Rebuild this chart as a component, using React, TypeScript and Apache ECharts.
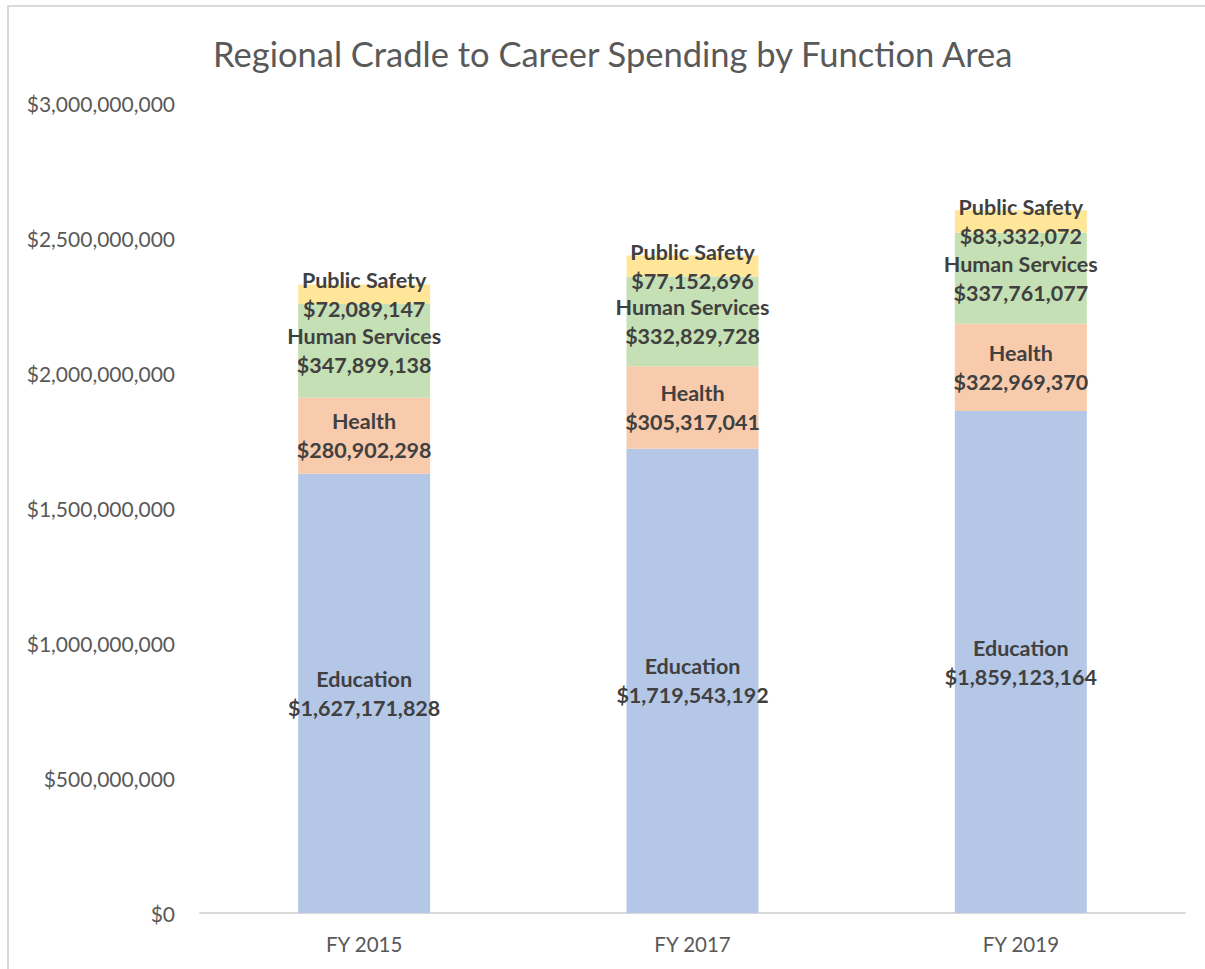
import React, { useEffect, useRef } from "react";
import * as echarts from "echarts";

const categories = ["FY 2015", "FY 2017", "FY 2019"];
const education = [1627171828, 1719543192, 1859123164];
const health = [280902298, 305317041, 322969370];
const humanServices = [347899138, 332829728, 337761077];
const publicSafety = [72089147, 77152696, 83332072];
const yTicks = { min: 0, max: 3000000000, interval: 500000000 };

const FONT = "Lato, 'Open Sans', sans-serif";

export default function App() {
  const ref = useRef<HTMLDivElement>(null);
  useEffect(() => {
    if (!ref.current) return;
    const chart = echarts.init(ref.current, null, { renderer: "svg" });
    const fmt = (v: number) => "$" + v.toLocaleString("en-US");
    const label = {
      show: true,
      position: "inside",
      color: "#404040",
      fontWeight: "bold",
      fontSize: 21.5,
      lineHeight: 29,
      fontFamily: FONT,
      formatter: (p: any) => p.seriesName + "\n" + fmt(p.value),
    };
    const mk = (name: string, data: number[], color: string) => ({
      name,
      type: "bar",
      stack: "total",
      data,
      barWidth: 132,
      itemStyle: { color },
      label,
    });
    chart.setOption({
      animation: false,
      backgroundColor: "#ffffff",
      title: {
        text: "Regional Cradle to Career Spending by Function Area",
        left: 208,
        top: 28,
        textStyle: {
          fontSize: 34.5,
          fontWeight: "normal",
          color: "#595959",
          fontFamily: FONT,
          lineHeight: 40,
        },
      },
      graphic: [
        {
          type: "rect",
          shape: { x: 8, y: 6, width: 1210, height: 980 },
          style: { fill: "none", stroke: "#d9d9d9", lineWidth: 2 },
          silent: true,
          z: -1,
        },
      ],
      grid: { left: 200, right: 20, top: 103, bottom: 56, containLabel: false },
      xAxis: {
        type: "category",
        data: categories,
        axisLine: { show: true, lineStyle: { color: "#d9d9d9", width: 2 } },
        axisTick: { show: false },
        axisLabel: {
          color: "#595959",
          fontSize: 20.5,
          fontFamily: FONT,
          margin: 20,
        },
      },
      yAxis: {
        type: "value",
        min: yTicks.min,
        max: yTicks.max,
        interval: yTicks.interval,
        splitLine: { show: false },
        axisLine: { show: false },
        axisTick: { show: false },
        axisLabel: {
          color: "#595959",
          fontSize: 21,
          fontFamily: FONT,
          margin: 25,
          formatter: (v: number) => fmt(v),
        },
      },
      series: [
        mk("Education", education, "#B4C7E7"),
        mk("Health", health, "#F8CBAD"),
        mk("Human Services", humanServices, "#C5E0B4"),
        mk("Public Safety", publicSafety, "#FFE699"),
      ],
    });
    return () => chart.dispose();
  }, []);
  return (
    <div
      ref={ref}
      style={{ position: "absolute", left: 0, top: 0, width: 1205, height: 969 }}
    />
  );
}
